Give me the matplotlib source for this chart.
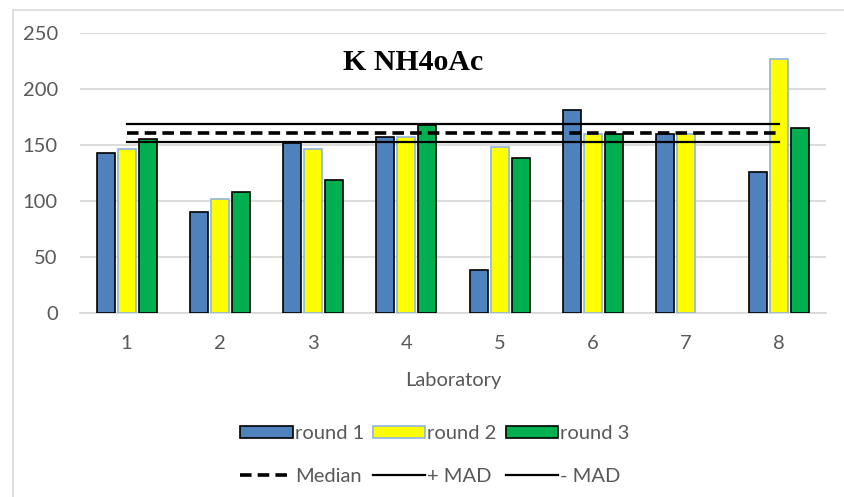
import matplotlib
matplotlib.use("Agg")
import matplotlib.pyplot as plt
from matplotlib.patches import Rectangle, Patch
from matplotlib.lines import Line2D
import numpy as np

labs = ["1", "2", "3", "4", "5", "6", "7", "8"]
round1 = [143, 90, 152, 157, 38, 181, 160, 126]
round2 = [146, 102, 146, 157, 148, 160, 160, 227]
round3 = [155, 108, 119, 168, 138, 160, float("nan"), 165]  # lab 7 did not report round 3
median = 161
plus_mad = 169
minus_mad = 153

W, H = 844, 497
fig = plt.figure(figsize=(W / 100, H / 100), dpi=100)
fig.patch.set_facecolor("white")

# chart-area frame
fig.add_artist(Rectangle((13 / W, -0.1), 1.2, (H - 10) / H + 0.1,
                         transform=fig.transFigure, fill=False,
                         edgecolor="#D9D9D9", linewidth=1.2))

ax = fig.add_axes([80 / W, (H - 313) / H, (826 - 80) / W, (313 - 33) / H])
gray = "#595959"
font = "Lato"
fs = 14.5

x = np.arange(1, len(labs) + 1)
bw = 0.195
off = 0.225
ax.bar(x - off, round1, bw, color="#4F81BD", edgecolor="black", linewidth=1.2, zorder=3)
ax.bar(x, round2, bw, color="#FFFF00", edgecolor="#8EB4E3", linewidth=1.2, zorder=3)
ax.bar(x + off, round3, bw, color="#00B050", edgecolor="black", linewidth=1.2, zorder=3)

dash = (0, (3.2, 1.7))
ax.plot(x, [plus_mad] * len(x), color="black", linewidth=1.6, zorder=4)
ax.plot(x, [median] * len(x), color="black", linewidth=2.6, linestyle=dash, zorder=4)
ax.plot(x, [minus_mad] * len(x), color="black", linewidth=1.6, zorder=4)

ax.set_xlim(0.5, len(labs) + 0.5)
ax.set_ylim(0, 250)
ax.set_yticks([0, 50, 100, 150, 200, 250])
ax.set_xticks(x)
ax.set_xticklabels(labs)
ax.grid(axis="y", color="#D9D9D9", linewidth=1.3, zorder=0)
for s in ["top", "right", "left"]:
    ax.spines[s].set_visible(False)
ax.spines["bottom"].set_color("#D9D9D9")
ax.spines["bottom"].set_linewidth(1.3)
ax.tick_params(axis="both", length=0, labelcolor=gray, labelsize=fs)
ax.tick_params(axis="y", pad=16)
ax.tick_params(axis="x", pad=16)
for lbl in ax.get_xticklabels() + ax.get_yticklabels():
    lbl.set_fontfamily(font)
ax.set_xlabel("Laboratory", fontsize=fs, color=gray, fontfamily=font, labelpad=14)

ax.text(413 / W, 1 - 63 / H, "K NH4oAc", transform=fig.transFigure, ha="center", va="center",
        fontsize=21.5, fontweight="bold", fontfamily="Liberation Serif", color="black")

handles = [
    Patch(facecolor="#4F81BD", edgecolor="black", linewidth=1.2, label="round 1"),
    Line2D([], [], color="black", linewidth=2.6, linestyle=dash, label="Median"),
    Patch(facecolor="#FFFF00", edgecolor="#8EB4E3", linewidth=1.2, label="round 2"),
    Line2D([], [], color="black", linewidth=1.6, label="+ MAD"),
    Patch(facecolor="#00B050", edgecolor="black", linewidth=1.2, label="round 3"),
    Line2D([], [], color="black", linewidth=1.6, label="- MAD"),
]
leg = fig.legend(handles=handles, ncol=3, loc="center", bbox_to_anchor=(435 / W, 1 - 455 / H),
                 frameon=False, handlelength=2.6, handleheight=0.55,
                 handletextpad=0.1, columnspacing=0.45, labelspacing=1.25,
                 prop={"family": font, "size": fs})
for t in leg.get_texts():
    t.set_color(gray)

fig.savefig("out.png", dpi=100, facecolor="white")
